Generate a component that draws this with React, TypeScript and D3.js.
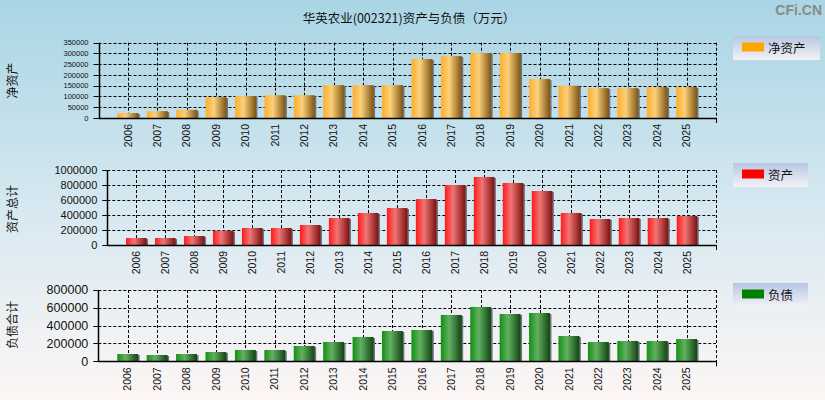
import * as d3 from "d3";

const years = [
  "2006", "2007", "2008", "2009", "2010", "2011", "2012", "2013", "2014", "2015",
  "2016", "2017", "2018", "2019", "2020", "2021", "2022", "2023", "2024", "2025",
];

// 净资产 (万元)
const netAssets = [
  23000, 32000, 38000, 97000, 102000, 106000, 106000, 153000, 153000, 153000,
  274000, 288000, 302000, 302000, 181000, 150000, 139000, 139000, 144000, 144000,
];
// 资产总计 (万元)
const totalAssets = [
  93000, 93000, 120000, 191000, 227000, 227000, 267000, 360000, 427000, 493000,
  613000, 800000, 907000, 827000, 720000, 427000, 347000, 360000, 360000, 387000,
];
// 负债合计 (万元)
const totalDebt = [
  82000, 71000, 82000, 104000, 127000, 127000, 172000, 217000, 273000, 340000,
  351000, 520000, 610000, 531000, 542000, 284000, 217000, 228000, 228000, 250000,
];

const netTicks = [0, 50000, 100000, 150000, 200000, 250000, 300000, 350000];
const assetTicks = [0, 200000, 400000, 600000, 800000, 1000000];
const debtTicks = [0, 200000, 400000, 600000, 800000];

const W = 825;
const H = 400;
const numFont = "'Liberation Sans', Arial, sans-serif";
const cjkFont = "'Noto Sans CJK SC', sans-serif";

type PanelProps = {
  id: string;
  values: number[];
  ticks: number[];
  left: number;
  right: number;
  top: number;
  bottom: number;
  tickFont: number;
  axisTitle: string;
  titleY: number;
  legendLabel: string;
  legendColor: string;
  legendY: number;
  legendW: number;
  stops: string[];
};

function Panel(p: PanelProps) {
  const x = d3
    .scaleLinear()
    .domain([-1, years.length])
    .range([p.left, p.right]);
  const y = d3
    .scaleLinear()
    .domain([0, p.ticks[p.ticks.length - 1]])
    .range([p.bottom, p.top]);
  const step = x(1) - x(0);
  const barW = step * 0.71;
  const gid = `grad-${p.id}`;

  return (
    <g>
      <defs>
        <linearGradient id={gid} x1="0%" y1="0%" x2="100%" y2="0%">
          <stop offset="0%" stopColor={p.stops[0]} />
          <stop offset="40%" stopColor={p.stops[1]} />
          <stop offset="100%" stopColor={p.stops[2]} />
        </linearGradient>
        <linearGradient id={`lg-${p.id}`} x1="0" y1="0" x2="0" y2="1">
          <stop offset="0%" stopColor="#b7c6e2" />
          <stop offset="100%" stopColor="#f4f2f6" />
        </linearGradient>
      </defs>

      {/* grid */}
      {p.ticks.slice(1).map((t) => (
        <line
          key={`h${t}`}
          x1={p.left}
          x2={p.right}
          y1={Math.round(y(t)) + 0.5}
          y2={Math.round(y(t)) + 0.5}
          stroke="#000"
          strokeDasharray="3,2"
        />
      ))}
      {years.map((yr, i) => (
        <line
          key={`v${yr}`}
          x1={Math.round(x(i)) + 0.5}
          x2={Math.round(x(i)) + 0.5}
          y1={p.top}
          y2={p.bottom}
          stroke="#000"
          strokeDasharray="3,2"
        />
      ))}
      <line
        x1={Math.round(p.right) + 0.5}
        x2={Math.round(p.right) + 0.5}
        y1={p.top}
        y2={p.bottom}
        stroke="#000"
        strokeDasharray="3,2"
      />

      {/* bars */}
      {p.values.map((v, i) => {
        const bx = x(i) - barW / 2;
        const by = y(v);
        return (
          <g key={`b${i}`}>
            <rect
              x={bx + 1.5}
              y={by + 1}
              width={barW}
              height={p.bottom - by - 1}
              fill="#6e7780"
            />
            <rect
              x={bx}
              y={by}
              width={barW}
              height={p.bottom - by}
              fill={`url(#${gid})`}
            />
          </g>
        );
      })}

      {/* axes */}
      <line
        x1={Math.round(p.left) + 0.5}
        x2={Math.round(p.left) + 0.5}
        y1={p.top}
        y2={p.bottom + 0.5}
        stroke="#000"
        strokeWidth={1.5}
      />
      <line
        x1={p.left}
        x2={p.right + 0.5}
        y1={Math.round(p.bottom) + 0.5}
        y2={Math.round(p.bottom) + 0.5}
        stroke="#000"
        strokeWidth={1.5}
      />
      <line
        x1={Math.round(p.right) + 0.5}
        x2={Math.round(p.right) + 0.5}
        y1={p.bottom}
        y2={p.bottom + 5}
        stroke="#000"
      />
      {p.ticks.map((t) => (
        <g key={`t${t}`}>
          <line
            x1={p.left - 5}
            x2={p.left}
            y1={Math.round(y(t)) + 0.5}
            y2={Math.round(y(t)) + 0.5}
            stroke="#000"
          />
          <text
            x={p.left - 10}
            y={y(t)}
            dy="0.35em"
            textAnchor="end"
            fontSize={p.tickFont}
            fontFamily={numFont}
            fill="#111"
          >
            {t}
          </text>
        </g>
      ))}
      {years.map((yr, i) => (
        <text
          key={`x${yr}`}
          transform={`translate(${x(i)},${p.bottom + 6}) rotate(-90)`}
          dy="0.35em"
          textAnchor="end"
          fontSize={10.5}
          fontFamily={numFont}
          fill="#111"
        >
          {yr}
        </text>
      ))}

      {/* axis title */}
      <text
        transform={`translate(13,${p.titleY}) rotate(-90)`}
        dy="0.35em"
        textAnchor="middle"
        fontSize={12}
        fontFamily={cjkFont}
        fill="#111"
      >
        {p.axisTitle}
      </text>

      {/* legend */}
      <rect
        x={733}
        y={p.legendY}
        width={p.legendW}
        height={24}
        fill={`url(#lg-${p.id})`}
      />
      <rect x={742} y={p.legendY + 6.5} width={22} height={9} fill={p.legendColor} />
      <text
        x={768}
        y={p.legendY + 12}
        dy="0.36em"
        fontSize={12.5}
        fontFamily={cjkFont}
        fill="#111"
      >
        {p.legendLabel}
      </text>
    </g>
  );
}

export default function App() {
  return (
    <svg
      width={W}
      height={H}
      style={{ position: "absolute", left: 0, top: 0 }}
    >
      <defs>
        <linearGradient id="bg" x1="0" y1="0" x2="0" y2="1">
          <stop offset="0%" stopColor="#a9d5e4" />
          <stop offset="55%" stopColor="#d9e9f1" />
          <stop offset="100%" stopColor="#fdf6f5" />
        </linearGradient>
      </defs>
      <rect width={W} height={H} fill="url(#bg)" />

      <text
        x={409}
        y={23}
        textAnchor="middle"
        fontSize={12.5}
        fontFamily={cjkFont}
        fill="#111"
      >
        华英农业(002321)资产与负债（万元）
      </text>
      <text
        x={822}
        y={15}
        textAnchor="end"
        fontSize={14}
        fontWeight="bold"
        fontFamily={numFont}
        fill="#8a8a8a"
      >
        CFi.CN
      </text>

      <Panel
        id="net"
        values={netAssets}
        ticks={netTicks}
        left={98.5}
        right={716}
        top={42.7}
        bottom={118}
        tickFont={7.5}
        axisTitle="净资产"
        titleY={80.5}
        legendLabel="净资产"
        legendColor="#ffa500"
        legendY={36}
        legendW={87}
        stops={["#ffae2a", "#fbd07c", "#7d5412"]}
      />
      <Panel
        id="asset"
        values={totalAssets}
        ticks={assetTicks}
        left={107.3}
        right={716}
        top={170}
        bottom={245}
        tickFont={11}
        axisTitle="资产总计"
        titleY={209}
        legendLabel="资产"
        legendColor="#ff0000"
        legendY={163}
        legendW={75}
        stops={["#ff1a1a", "#f07575", "#7d1010"]}
      />
      <Panel
        id="debt"
        values={totalDebt}
        ticks={debtTicks}
        left={98.3}
        right={716}
        top={290}
        bottom={361.3}
        tickFont={12.5}
        axisTitle="负债合计"
        titleY={325}
        legendLabel="负债"
        legendColor="#008000"
        legendY={283}
        legendW={75}
        stops={["#139013", "#62b062", "#124412"]}
      />
    </svg>
  );
}
